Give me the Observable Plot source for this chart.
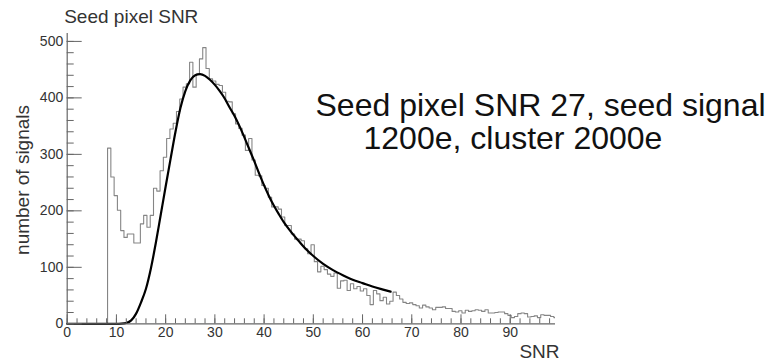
<!DOCTYPE html>
<html><head><meta charset="utf-8">
<script src="https://cdn.jsdelivr.net/npm/d3@7"></script>
<script src="https://cdn.jsdelivr.net/npm/@observablehq/plot@0.6"></script>
<style>html,body{margin:0;padding:0;background:#fff} svg{display:block}</style>
</head><body><div id="chart"></div>
<script>
// Histogram: bin start, bin width and counts per bin
const binStart = 8.2;
const binWidth = 2 / 3;
const counts = [
  311, 260, 227, 201, 165, 153, 159, 159, 143, 143,
  177, 192, 171, 192, 240, 235, 271, 295, 328, 345,
  355, 376, 398, 419, 425, 463, 419, 442, 469, 489,
  452, 434, 430, 424, 422, 410, 394, 393, 372, 354,
  346, 334, 307, 328, 290, 263, 262, 245, 240, 224,
  207, 207, 203, 189, 174, 174, 159, 150, 150, 147,
  133, 124, 140, 110, 92, 102, 96, 88, 84, 90,
  63, 76, 77, 59, 71, 62, 66, 58, 62, 50,
  34, 59, 53, 41, 47, 35, 40, 56, 50, 44,
  38, 36, 37, 34, 32, 28, 33, 30, 28, 25,
  29, 29, 30, 27, 27, 22, 21, 23, 19, 24,
  22, 23, 25, 24, 22, 25, 19, 19, 20, 21,
  21, 18, 15, 11, 13, 18, 19, 18, 12, 13,
  14, 11, 16, 15, 15, 13, 11
];

// Fitted curve
const curveX = [0, 10, 11, 12, 13, 14, 15, 16, 17, 18, 19, 20, 21, 22, 23, 24, 25, 26, 27, 28, 29, 30,
  31, 32, 33, 34, 35, 36, 37, 38, 39, 40, 41, 42, 43, 44, 45, 46, 47, 48, 49, 50, 52, 54, 56, 58, 60, 62, 64, 65.7];
const curveY = [0, 0, 0.3, 1.5, 6, 18, 38, 62, 98, 143, 193, 243, 292, 340, 382, 412, 431, 440, 442, 439, 432, 423,
  412, 399, 383, 368, 350, 330, 309, 288, 266, 245, 226, 209, 194, 180, 168, 157, 147, 137, 128, 120, 106, 95, 86, 78, 72, 66, 61, 57];

// Axes
const xDomain = [0, 99.2];
const yDomain = [0, 514];
const xTicks = [0, 10, 20, 30, 40, 50, 60, 70, 80, 90];
const xMinorTicks = d3.range(0, 99, 2);
const yTicks = [0, 100, 200, 300, 400, 500];
const yMinorTicks = d3.range(0, 514, 20);

// Texts
const title = "Seed pixel SNR";
const xLabel = "SNR";
const yLabel = "number of signals";
const noteLines = ["Seed pixel SNR 27, seed signal", "1200e, cluster 2000e"];

const histPts = [{x: binStart, y: 0}]
  .concat(counts.map((c, i) => ({x: binStart + i * binWidth, y: c})))
  .concat([{x: binStart + counts.length * binWidth, y: counts[counts.length - 1]}]);
const curvePts = curveX.map((x, i) => ({x, y: curveY[i]}));

const axisColor = "#666";
const textColor = "#333";

const chart = Plot.plot({
  width: 768,
  height: 362,
  marginLeft: 66.7,
  marginRight: 213,
  marginTop: 33,
  marginBottom: 38.7,
  x: {domain: xDomain, label: null},
  y: {domain: yDomain, label: null},
  style: {fontFamily: "'Liberation Sans', Arial, sans-serif", background: "#fff", overflow: "visible"},
  marks: [
    Plot.line(histPts, {x: "x", y: "y", curve: "step-after", stroke: "#858585", strokeWidth: 1.1, clip: true}),
    Plot.line(curvePts, {x: "x", y: "y", curve: "monotone-x", stroke: "#000", strokeWidth: 2.2}),
    Plot.ruleY([0], {stroke: axisColor, strokeWidth: 1.2}),
    Plot.ruleX([0], {stroke: axisColor, strokeWidth: 1.2}),
    Plot.axisX(xTicks, {tickSize: -9, tickPadding: 12.4, stroke: axisColor, fill: textColor, fontSize: 14, label: null}),
    Plot.axisX(xMinorTicks, {tickSize: -5, stroke: axisColor, fill: "none", label: null}),
    Plot.axisY(yTicks, {tickSize: -15, tickPadding: 19, stroke: axisColor, fill: textColor, fontSize: 14, label: null}),
    Plot.axisY(yMinorTicks, {tickSize: -7, stroke: axisColor, fill: "none", label: null}),
    Plot.text([title], {frameAnchor: "top-left", dx: -3, dy: -10.5, textAnchor: "start", lineAnchor: "bottom", fontSize: 19, fill: textColor}),
    Plot.text([noteLines[0]], {frameAnchor: "top-left", dx: 248.3, dy: 82, textAnchor: "start", lineAnchor: "bottom", fontSize: 32, fill: "#111"}),
    Plot.text([noteLines[1]], {frameAnchor: "top-left", dx: 296.3, dy: 115.3, textAnchor: "start", lineAnchor: "bottom", fontSize: 32, fill: "#111"}),
    Plot.text([xLabel], {frameAnchor: "bottom-right", dx: 4, dy: 34.5, textAnchor: "end", lineAnchor: "bottom", fontSize: 19, fill: textColor}),
    Plot.text([yLabel], {frameAnchor: "left", rotate: -90, dx: -44.4, dy: 1.3, textAnchor: "middle", lineAnchor: "middle", fontSize: 19, fill: textColor})
  ]
});
document.getElementById("chart").append(chart);
</script>
</body></html>
